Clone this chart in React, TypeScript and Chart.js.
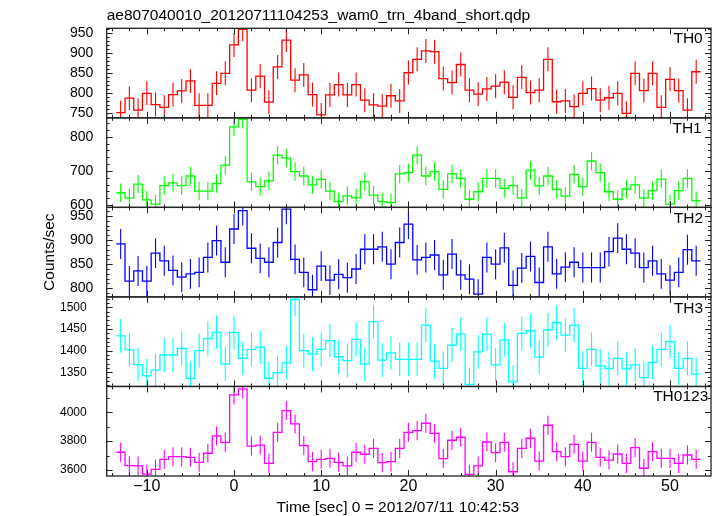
import React, { useEffect, useRef } from "react";
import { Chart, registerables } from "chart.js";

Chart.register(...registerables);

const TITLE = "ae807040010_20120711104253_wam0_trn_4band_short.qdp";
const X_TITLE = "Time [sec] 0 = 2012/07/11 10:42:53";
const Y_TITLE = "Counts/sec";

// bin centres (s), bin width 1 s
const TIME = [-13, -12, -11, -10, -9, -8, -7, -6, -5, -4, -3, -2, -1, 0, 1, 2, 3, 4, 5, 6, 7, 8, 9, 10, 11, 12, 13, 14, 15, 16, 17, 18, 19, 20, 21, 22, 23, 24, 25, 26, 27, 28, 29, 30, 31, 32, 33, 34, 35, 36, 37, 38, 39, 40, 41, 42, 43, 44, 45, 46, 47, 48, 49, 50, 51, 52, 53];
const BIN_WIDTH = 1;

const TH0 = [752, 788, 758, 800, 772, 765, 797, 806, 831, 770, 770, 825, 850, 921, 960, 808, 843, 778, 866, 933, 833, 846, 797, 746, 796, 822, 796, 822, 783, 771, 768, 794, 781, 852, 885, 906, 904, 837, 827, 872, 808, 798, 811, 818, 828, 790, 840, 802, 808, 885, 779, 781, 767, 800, 812, 783, 789, 800, 750, 850, 807, 850, 765, 835, 807, 758, 854];
const TH1 = [636, 620, 661, 615, 603, 657, 665, 657, 685, 641, 641, 663, 717, 829, 851, 668, 654, 671, 746, 738, 698, 685, 659, 675, 641, 610, 627, 621, 668, 629, 610, 607, 691, 695, 746, 685, 698, 646, 691, 678, 617, 639, 678, 678, 649, 657, 620, 702, 656, 685, 646, 626, 690, 654, 729, 695, 639, 617, 647, 659, 620, 642, 676, 603, 642, 678, 613];
const TH2 = [892, 815, 836, 815, 873, 857, 837, 823, 830, 833, 864, 899, 854, 923, 961, 883, 862, 854, 895, 964, 860, 833, 797, 846, 817, 829, 822, 840, 881, 881, 886, 850, 895, 933, 859, 864, 869, 828, 871, 828, 819, 788, 864, 850, 884, 806, 842, 866, 812, 886, 830, 844, 854, 843, 843, 843, 876, 904, 881, 873, 843, 857, 830, 817, 833, 880, 857];
const TH3 = [1434, 1402, 1368, 1342, 1355, 1390, 1390, 1405, 1336, 1400, 1428, 1442, 1369, 1442, 1382, 1403, 1408, 1336, 1349, 1372, 1518, 1400, 1392, 1403, 1423, 1386, 1377, 1426, 1369, 1467, 1378, 1395, 1380, 1380, 1380, 1459, 1376, 1359, 1413, 1438, 1322, 1397, 1438, 1367, 1425, 1328, 1440, 1446, 1385, 1448, 1465, 1436, 1459, 1359, 1403, 1365, 1359, 1382, 1358, 1367, 1338, 1373, 1403, 1421, 1359, 1382, 1346];
const TH0123 = [3723, 3630, 3628, 3572, 3605, 3674, 3692, 3692, 3688, 3653, 3716, 3836, 3792, 4120, 4162, 3766, 3773, 3646, 3861, 4012, 3919, 3769, 3658, 3674, 3681, 3653, 3628, 3723, 3709, 3750, 3651, 3658, 3750, 3861, 3873, 3924, 3854, 3679, 3806, 3827, 3570, 3628, 3794, 3720, 3792, 3588, 3750, 3820, 3662, 3910, 3727, 3692, 3778, 3662, 3792, 3688, 3669, 3711, 3646, 3755, 3612, 3727, 3681, 3681, 3646, 3704, 3674];

// 1-sigma errors per band (counts/sec)
const TH0_ERR = 30;
const TH1_ERR = 27;
const TH2_ERR = 31;
const TH3_ERR = 39;
const TH0123_ERR = 66;

const PANEL_NAMES = ["TH0", "TH1", "TH2", "TH3", "TH0123"];
const PANEL_VALUES = [TH0, TH1, TH2, TH3, TH0123];
const PANEL_ERRORS = [TH0_ERR, TH1_ERR, TH2_ERR, TH3_ERR, TH0123_ERR];
const PANEL_COLORS = ["#ff0000", "#00ff00", "#0000ff", "#00ffff", "#ff00ff"];

const Y_MIN = [738.8, 593.2, 782.1, 1317.4, 3558.4];
const Y_MAX = [962.5, 855.3, 967.8, 1524, 4178.9];
const Y_MAJOR_TICKS = [
  [750, 800, 850, 900, 950],
  [600, 700, 800],
  [800, 850, 900, 950],
  [1350, 1400, 1450, 1500],
  [3600, 3800, 4000],
];
const Y_MINOR_STEP = [10, 20, 10, 10, 100];

const X_MIN = -14.6;
const X_MAX = 54.7;
const X_MAJOR_TICKS = [-10, 0, 10, 20, 30, 40, 50];
const X_MINOR_STEP = 2;

// styling
const FONT = '"Liberation Sans", Arial, Helvetica, sans-serif';
const Y_LABEL_SIZE = [14, 14, 14, 12, 12];
const Y_LABEL_PAD = [13.4, 13.4, 13.4, 20, 20];
const LABEL_RIGHT_INSET = [8.3, 9.3, 8, 8, 2.7];
const LABEL_BASELINE = [15, 15.5, 16, 16.5, 15];
const MAJOR_LEN = 6;
const MINOR_LEN = 3;
const FRAME_COLOR = "#222";
const Y_TITLE_X = 50;

function fmt(v: number): string {
  return v < 0 ? "\u2212" + Math.abs(v) : String(v);
}

function isMajor(v: number, majors: number[]): boolean {
  return majors.some((m) => Math.abs(m - v) < 1e-6);
}

const panelPlugin = {
  id: "panelPlugin",
  afterDatasetsDraw(chart: any) {
    const ctx: CanvasRenderingContext2D = chart.ctx;
    const xs = chart.scales.x;
    const left = chart.chartArea.left;
    const right = chart.chartArea.right;

    PANEL_NAMES.forEach((name, i) => {
      const ys = chart.scales["y" + i];
      const top = ys.top;
      const bottom = ys.bottom;
      const vals = PANEL_VALUES[i];
      const err = PANEL_ERRORS[i];

      // error bars
      ctx.save();
      ctx.beginPath();
      ctx.rect(left, top, right - left, bottom - top);
      ctx.clip();
      ctx.strokeStyle = PANEL_COLORS[i];
      ctx.lineWidth = 1.1;
      ctx.beginPath();
      TIME.forEach((t, j) => {
        const x = xs.getPixelForValue(t);
        ctx.moveTo(x, ys.getPixelForValue(vals[j] - err));
        ctx.lineTo(x, ys.getPixelForValue(vals[j] + err));
      });
      ctx.stroke();
      ctx.restore();

      // frame
      ctx.save();
      ctx.strokeStyle = FRAME_COLOR;
      ctx.lineWidth = 1.3;
      ctx.strokeRect(left, top, right - left, bottom - top);

      // x ticks (top & bottom, inward)
      ctx.lineWidth = 1;
      ctx.beginPath();
      const xStart = Math.ceil(X_MIN / X_MINOR_STEP) * X_MINOR_STEP;
      for (let v = xStart; v <= X_MAX; v += X_MINOR_STEP) {
        const len = isMajor(v, X_MAJOR_TICKS) ? MAJOR_LEN : MINOR_LEN;
        const x = Math.round(xs.getPixelForValue(v)) + 0.5;
        ctx.moveTo(x, top);
        ctx.lineTo(x, top + len);
        ctx.moveTo(x, bottom);
        ctx.lineTo(x, bottom - len);
      }
      // y ticks (left & right, inward)
      const step = Y_MINOR_STEP[i];
      const yStart = Math.ceil(Y_MIN[i] / step) * step;
      for (let v = yStart; v <= Y_MAX[i]; v += step) {
        const len = isMajor(v, Y_MAJOR_TICKS[i]) ? MAJOR_LEN : MINOR_LEN;
        const y = Math.round(ys.getPixelForValue(v)) + 0.5;
        ctx.moveTo(left, y);
        ctx.lineTo(left + len, y);
        ctx.moveTo(right, y);
        ctx.lineTo(right - len, y);
      }
      ctx.stroke();

      // panel label
      ctx.fillStyle = "#000";
      ctx.font = "15.5px " + FONT;
      ctx.textAlign = "right";
      ctx.textBaseline = "alphabetic";
      ctx.fillText(name, right - LABEL_RIGHT_INSET[i], top + LABEL_BASELINE[i]);
      ctx.restore();
    });

    // titles
    const area = chart.chartArea;
    ctx.save();
    ctx.fillStyle = "#000";
    ctx.font = "15.5px " + FONT;
    ctx.textBaseline = "alphabetic";
    ctx.textAlign = "left";
    ctx.fillText(TITLE, area.left, 20);
    ctx.textAlign = "center";
    ctx.fillText(X_TITLE, (area.left + area.right) / 2 - 11, 511.5);
    ctx.translate(Y_TITLE_X, (area.top + area.bottom) / 2);
    ctx.rotate(-Math.PI / 2);
    ctx.textBaseline = "middle";
    ctx.fillText(Y_TITLE, 0, 0);
    ctx.restore();
  },
};

export default function App() {
  const canvasRef = useRef<HTMLCanvasElement | null>(null);

  useEffect(() => {
    const canvas = canvasRef.current;
    if (!canvas) return;

    const datasets = PANEL_NAMES.map((name, i) => {
      const vals = PANEL_VALUES[i];
      const last = TIME.length - 1;
      const data = TIME.map((t, j) => ({ x: t - BIN_WIDTH / 2, y: vals[j] }));
      data.push({ x: TIME[last] + BIN_WIDTH / 2, y: vals[last] });
      return {
        label: name,
        data,
        yAxisID: "y" + i,
        xAxisID: "x",
        borderColor: PANEL_COLORS[i],
        backgroundColor: PANEL_COLORS[i],
        borderWidth: 1.3,
        stepped: "before" as const,
        pointRadius: 0,
        fill: false,
        tension: 0,
      };
    });

    const scales: any = {
      x: {
        type: "linear",
        position: "bottom",
        min: X_MIN,
        max: X_MAX,
        afterBuildTicks: (s: any) => {
          s.ticks = X_MAJOR_TICKS.map((v) => ({ value: v }));
        },
        afterFit: (s: any) => {
          s.height = 40;
        },
        grid: { display: false, drawTicks: false },
        border: { display: false },
        ticks: {
          color: "#000",
          padding: 1,
          maxRotation: 0,
          autoSkip: false,
          font: { size: 16, family: FONT },
          callback: (v: any) => fmt(Number(v)),
        },
      },
    };
    // bottom panel first so that TH0 ends up on top of the stack
    for (let i = PANEL_NAMES.length - 1; i >= 0; i--) {
      scales["y" + i] = {
        type: "linear",
        position: "left",
        stack: "panels",
        stackWeight: 1,
        min: Y_MIN[i],
        max: Y_MAX[i],
        afterBuildTicks: (s: any) => {
          s.ticks = Y_MAJOR_TICKS[i].map((v) => ({ value: v }));
        },
        afterFit: (s: any) => {
          s.width = 60;
        },
        grid: { display: false, drawTicks: false },
        border: { display: false },
        ticks: {
          color: "#000",
          padding: Y_LABEL_PAD[i],
          autoSkip: false,
          font: { size: Y_LABEL_SIZE[i], family: FONT },
          callback: (v: any) => fmt(Number(v)),
        },
      };
    }

    const chart = new Chart(canvas, {
      type: "line",
      data: { datasets },
      options: {
        responsive: false,
        animation: false,
        devicePixelRatio: 1,
        events: [],
        layout: { padding: { left: 46.7, top: 28.3, right: 6, bottom: 0 } },
        plugins: {
          legend: { display: false },
          tooltip: { enabled: false },
          title: { display: false },
        },
        scales,
      },
      plugins: [panelPlugin],
    } as any);

    return () => {
      chart.destroy();
    };
  }, []);

  return (
    <div style={{ position: "fixed", left: 0, top: 0, width: 717, height: 516, background: "#fff" }}>
      <canvas ref={canvasRef} width={717} height={516} style={{ width: 717, height: 516, display: "block" }} />
    </div>
  );
}
